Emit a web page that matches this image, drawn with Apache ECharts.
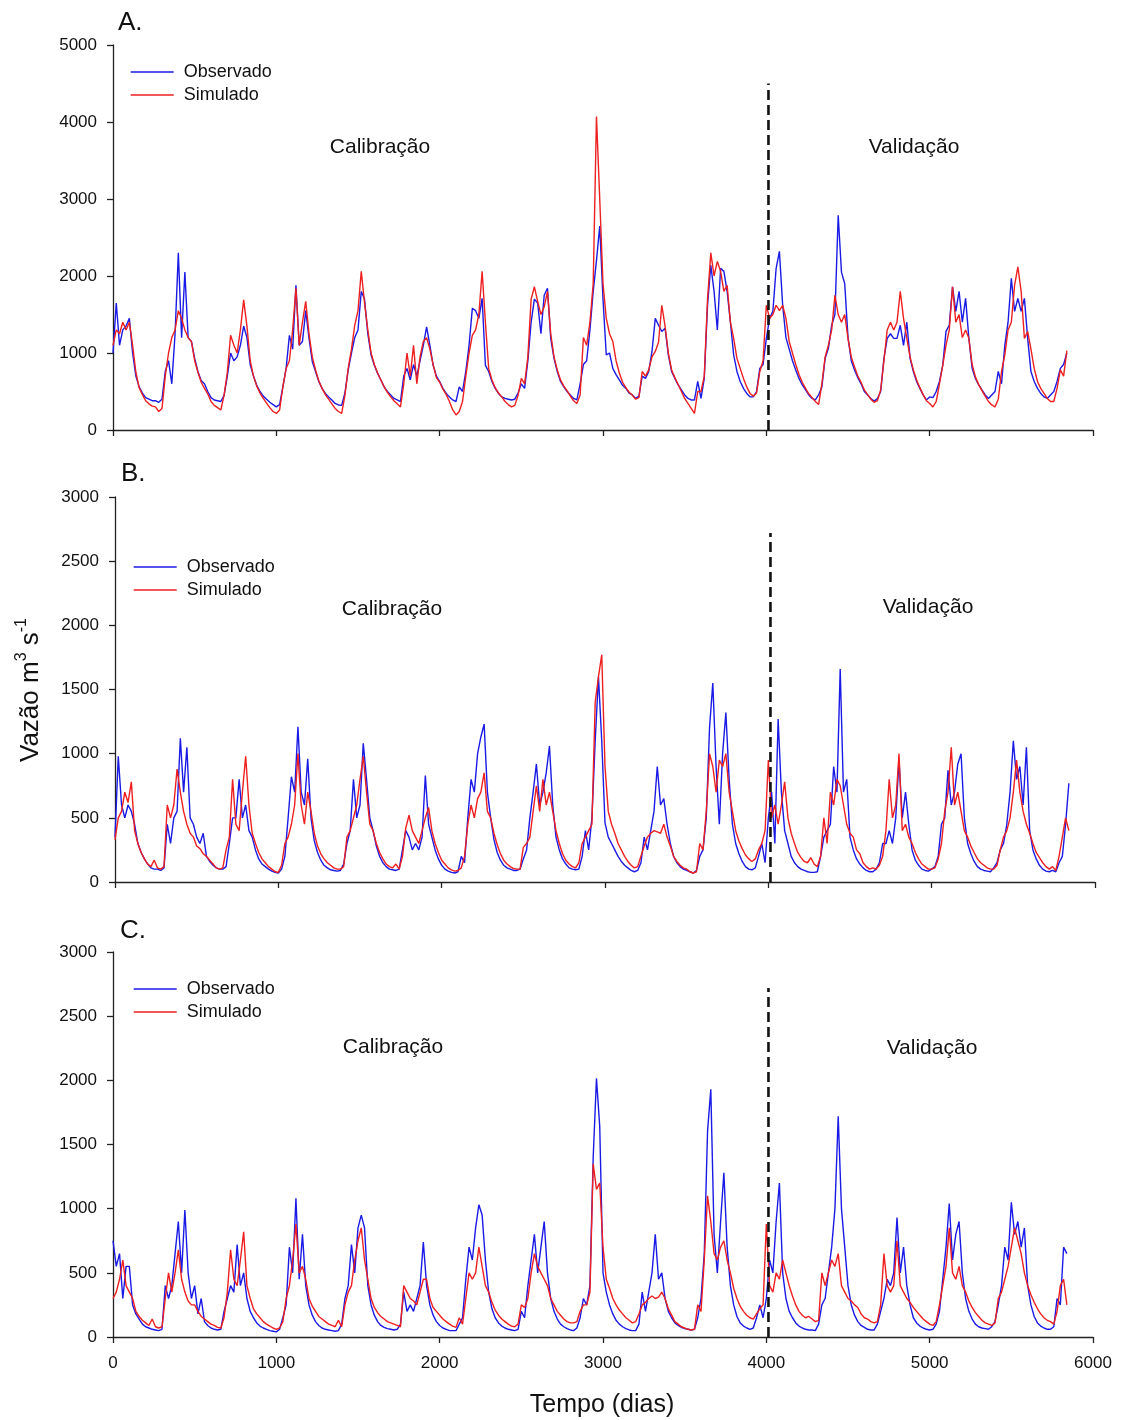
<!DOCTYPE html>
<html><head><meta charset="utf-8">
<script src="https://cdn.jsdelivr.net/npm/echarts@6/dist/echarts.min.js"></script>
<style>html,body{margin:0;padding:0;background:#fff}#c{width:1122px;height:1420px}</style>
</head><body><div id="c"></div>
<script>
// Values read every 20 days (day 0 .. 5840) from the reference picture
const obsA = [
1000,1650,1100,1300,1350,1450,1000,700,560,480,
420,400,380,380,360,400,760,900,600,1250,
2300,1200,2050,1200,1150,930,760,640,600,500,
420,390,380,370,450,700,1000,900,950,1100,
1350,1200,850,700,580,500,440,400,360,330,
300,330,560,800,1230,1050,1880,1100,1150,1550,
1190,890,760,630,540,475,430,390,345,325,
320,480,780,1000,1200,1300,1800,1700,1250,975,
840,735,650,560,500,455,410,390,370,700,
800,650,850,700,900,1100,1340,1100,840,700,
630,540,475,430,390,370,560,500,760,1100,
1580,1550,1450,1710,840,760,630,540,475,430,
410,400,390,400,480,600,540,900,1400,1700,
1650,1250,1750,1840,1190,930,760,630,560,500,
455,410,390,600,850,900,1300,1800,2200,2650,
1700,975,1000,800,720,650,580,540,480,455,
410,440,700,670,760,1020,1450,1360,1280,1320,
975,760,670,585,520,455,410,390,390,630,
410,670,1620,2140,1800,1300,2100,2060,1800,1400,
975,760,630,540,475,430,430,500,800,850,
1190,1450,1540,2100,2320,1620,1200,1050,900,780,
670,585,520,455,410,390,455,560,930,1060,
1360,1500,2790,2050,1900,1200,900,780,680,600,
500,455,410,375,410,500,930,1190,1250,1190,
1190,1360,1100,1400,930,760,630,540,455,390,
430,420,500,630,840,1280,1360,1860,1540,1800,
1400,1710,1190,800,670,585,520,455,410,455,
500,760,600,1100,1400,1970,1540,1710,1540,1710,
1190,760,630,540,475,430,410,455,500,630,
800,850,1000];
const simA = [
1100,1300,1250,1400,1300,1400,1100,750,550,460,
380,340,310,300,240,280,700,1000,1200,1300,
1550,1450,1300,1200,1150,900,750,620,540,470,
370,320,290,260,450,750,1230,1100,1000,1300,
1690,1350,900,700,570,480,410,350,290,240,
215,260,560,800,900,1300,1840,1100,1400,1670,
1250,950,780,640,540,460,400,340,280,240,
215,450,800,1050,1360,1550,2060,1650,1300,1000,
850,740,650,560,490,430,380,340,300,600,
1000,700,1100,600,950,1150,1200,1050,850,680,
620,530,460,370,260,195,240,370,700,1000,
1230,1300,1500,2060,1400,800,650,550,480,430,
370,330,300,320,450,670,600,950,1700,1860,
1670,1500,1600,1800,1250,950,780,650,570,510,
440,380,345,455,1200,1100,1400,1900,4070,3000,
1900,1450,1250,1150,900,740,620,550,490,450,
400,420,760,700,780,950,1020,1140,1620,1350,
1000,780,680,590,500,410,345,280,215,500,
500,700,1700,2300,2000,2190,2060,1800,1880,1400,
1190,930,800,670,560,475,440,480,760,900,
1620,1450,1500,1620,1550,1620,1450,1150,1000,850,
720,620,540,470,420,370,330,600,950,1100,
1300,1750,1500,1400,1500,1190,950,820,700,620,
520,460,400,360,380,520,900,1300,1400,1300,
1400,1800,1450,1190,950,780,650,550,460,380,
345,300,370,600,840,1100,1300,1860,1400,1500,
1200,1300,1190,850,690,590,510,440,370,325,
300,400,760,975,1300,1400,1880,2120,1800,1190,
1280,1050,800,630,540,475,410,370,370,540,
780,700,1030];
const obsB = [
350,980,600,500,600,550,450,300,230,180,
140,110,100,100,90,110,450,300,500,550,
1120,700,1050,500,450,350,300,380,200,160,
130,110,100,100,120,300,500,500,800,500,
600,400,350,250,180,140,120,100,85,75,
70,100,200,500,820,700,1210,700,600,960,
500,320,230,170,130,110,95,90,85,90,
140,300,400,800,500,600,1080,800,500,400,
280,200,150,120,100,95,90,100,250,400,
350,250,300,250,350,830,450,350,250,180,
130,100,85,75,70,80,200,150,500,800,
700,1000,1130,1230,700,500,330,230,170,130,
110,100,90,90,100,180,250,500,700,920,
600,700,850,1060,600,350,250,180,140,110,
100,95,100,200,400,250,500,1100,1600,1100,
460,350,300,250,200,160,130,110,90,80,
90,150,350,250,400,550,900,600,650,450,
300,200,150,120,100,90,80,70,90,200,
250,500,1200,1550,900,450,1000,1320,800,450,
300,220,160,120,100,95,110,200,300,150,
500,700,300,1270,700,400,300,200,150,120,
100,90,80,75,75,80,200,350,400,450,
900,700,1660,700,800,350,250,180,140,110,
90,80,80,100,150,300,300,400,300,500,
950,500,700,450,250,170,130,100,90,85,
100,120,200,450,500,870,600,700,920,1000,
500,300,220,160,120,100,90,85,80,110,
150,250,300,450,700,1100,800,900,600,1050,
400,250,180,130,100,85,80,90,80,150,
200,450,770];
const simB = [
330,500,550,700,620,780,400,300,230,180,
140,120,170,110,100,120,600,500,600,880,
700,550,450,380,350,280,260,220,200,170,
140,110,100,110,250,350,800,450,400,700,
980,600,380,300,230,180,150,120,100,80,
75,130,300,350,450,600,1000,600,450,700,
550,380,280,220,180,150,130,110,100,100,
120,350,400,500,600,800,980,700,450,400,
300,230,180,140,120,110,140,100,200,420,
520,400,350,300,400,500,580,400,300,230,
170,140,110,95,85,90,110,200,450,600,
500,650,700,850,550,500,380,290,220,170,
140,120,105,100,100,270,300,350,550,750,
550,800,600,700,550,400,300,220,170,140,
120,110,150,300,350,400,450,1400,1600,1770,
900,550,450,380,300,250,200,160,130,110,
120,200,280,350,380,400,390,380,450,350,
280,200,160,130,110,100,80,70,80,300,
250,550,1000,900,700,950,900,1000,700,550,
400,320,260,210,180,160,180,250,300,400,
950,500,600,450,600,780,500,380,300,230,
190,160,150,190,140,120,200,500,300,700,
600,800,750,600,450,380,350,250,220,150,
120,100,110,100,130,200,400,800,500,600,
1000,400,450,350,300,230,180,140,120,100,
100,110,180,300,550,700,1050,600,700,550,
400,350,280,230,180,150,130,110,100,100,
130,250,350,400,500,700,950,700,550,450,
380,300,230,190,150,120,100,120,90,200,
350,500,400];
const obsC = [
750,550,650,300,550,550,250,180,140,100,
80,70,60,55,50,60,400,300,400,650,
900,500,990,500,300,400,180,300,120,90,
70,60,55,60,200,300,400,350,720,400,
500,300,200,150,110,85,70,60,50,45,
40,60,150,250,700,500,1080,450,800,400,
250,170,120,90,70,60,55,50,45,50,
100,300,400,720,500,850,950,850,400,250,
170,120,90,75,65,60,55,60,100,350,
200,250,200,300,400,740,400,250,170,120,
90,70,60,50,50,50,100,150,450,700,
600,850,1030,950,600,350,220,150,110,85,
70,60,55,50,60,200,150,400,600,800,
500,700,900,500,300,200,140,100,80,65,
55,50,70,150,300,250,400,1400,2015,1640,
500,350,250,180,130,100,80,65,55,50,
50,100,350,200,350,500,800,450,500,300,
200,150,110,90,75,65,60,55,60,150,
300,650,1600,1930,800,500,900,1280,700,400,
250,160,110,85,70,60,70,150,250,150,
300,600,500,900,1200,500,300,200,150,110,
85,70,60,55,55,50,100,250,300,500,
700,1000,1720,1000,700,400,250,170,120,90,
75,60,55,55,100,200,300,450,400,500,
930,500,700,400,250,150,110,85,70,60,
55,60,100,200,450,700,1040,600,800,900,
500,300,200,140,100,80,70,65,60,80,
120,250,400,700,600,1050,800,900,700,850,
400,250,160,110,85,70,60,60,80,300,
250,700,650];
const simC = [
300,350,450,600,400,350,300,200,160,130,
110,90,140,80,70,80,300,500,350,500,
680,450,350,280,250,250,200,160,140,120,
100,90,75,70,150,350,680,450,400,600,
820,400,300,220,180,150,120,100,85,70,
60,70,120,300,400,600,880,500,550,450,
300,240,200,160,140,120,100,90,80,130,
80,250,350,400,600,750,850,600,450,300,
230,190,160,140,120,110,100,90,80,400,
350,300,280,250,350,450,450,300,230,200,
170,140,120,100,85,75,150,100,300,500,
450,500,700,550,400,350,270,210,170,140,
120,100,85,80,100,250,230,300,500,650,
550,500,450,400,300,250,200,170,140,120,
110,110,120,200,250,250,350,1350,1150,1200,
700,450,380,300,250,210,180,150,130,110,
120,180,250,270,300,320,300,310,350,300,
220,170,120,100,80,70,60,55,60,250,
200,600,1100,900,650,600,700,750,600,500,
380,300,240,200,170,150,140,180,220,250,
880,400,350,500,450,600,500,400,320,250,
200,170,150,160,140,120,130,500,400,500,
600,550,650,400,350,300,280,250,230,180,
150,140,120,110,120,250,650,400,350,400,
750,400,350,300,270,230,200,170,140,120,
100,90,120,250,400,550,850,500,450,550,
400,350,280,230,190,160,130,110,100,90,
110,300,350,450,550,700,850,750,650,500,
400,330,270,220,180,150,130,120,100,200,
400,450,250];
const seriesNames = ['Observado', 'Simulado'];
const panelLabels = ['A.', 'B.', 'C.'];
const periodLabels = ['Calibração', 'Validação'];
const yMax = [5000, 3000, 3000];
const yStep = [1000, 500, 500];
const splitDay = 4013;            // calibration / validation boundary (day)
const splitTop = [4500, 2720, 2720];

// ----- build chart -----
const days = obsA.map((_, i) => i * 20);
const F = "'Liberation Sans', Arial, Helvetica, sans-serif";
const BLUE = '#1a1ae6', RED = '#ee1f1f', AX = '#222';
const grids = [
  {left: 113, top: 45, width: 980, height: 385},
  {left: 115, top: 497, width: 980, height: 385},
  {left: 113, top: 952, width: 980, height: 385}
];
const obs = [obsA, obsB, obsC], sim = [simA, simB, simC];
const xAxis = [], yAxis = [], series = [], legend = [];
const legendPos = [{left: 130, top: 63}, {left: 133, top: 558}, {left: 133, top: 980}];
const plain = v => String(v);
for (let k = 0; k < 3; k++) {
  xAxis.push({type: 'value', gridIndex: k, min: 0, max: 6000, interval: 1000,
    axisLine: {show: true, onZero: false, lineStyle: {color: AX, width: 1.3}},
    axisTick: {show: true, inside: false, length: 6, lineStyle: {color: AX, width: 1.3}},
    axisLabel: {show: k === 2, fontSize: 17, fontFamily: F, color: '#111', margin: 18, formatter: plain},
    splitLine: {show: false}});
  yAxis.push({type: 'value', gridIndex: k, min: 0, max: yMax[k], interval: yStep[k],
    axisLine: {show: true, lineStyle: {color: AX, width: 1.3}},
    axisTick: {show: true, inside: false, length: 6, lineStyle: {color: AX, width: 1.3}},
    axisLabel: {fontSize: 17, fontFamily: F, color: '#111', margin: 16, formatter: plain},
    splitLine: {show: false}});
  series.push({type: 'line', name: seriesNames[0], xAxisIndex: k, yAxisIndex: k,
    data: days.map((d, i) => [d, obs[k][i]]), symbol: 'none', color: BLUE,
    lineStyle: {color: BLUE, width: 1.4}, z: 2, animation: false});
  series.push({type: 'line', name: seriesNames[1], xAxisIndex: k, yAxisIndex: k,
    data: days.map((d, i) => [d, sim[k][i]]), symbol: 'none', color: RED,
    lineStyle: {color: RED, width: 1.4}, z: 3, animation: false});
  series.push({type: 'line', name: 'divisa', xAxisIndex: k, yAxisIndex: k,
    data: [[splitDay, 0], [splitDay, splitTop[k]]], symbol: 'none', silent: true,
    lineStyle: {color: '#111', width: 2.6, type: [10, 5]}, z: 4, animation: false});
  legend.push({left: legendPos[k].left, top: legendPos[k].top, orient: 'vertical',
    data: seriesNames, itemWidth: 43, itemHeight: 18, itemGap: 5, padding: 0,
    itemStyle: {opacity: 0, color: 'rgba(0,0,0,0)', borderWidth: 0},
    lineStyle: {width: 1.4},
    selectedMode: false, textStyle: {fontSize: 18, fontFamily: F, color: '#111', padding: [0, 0, 0, 5]}});
}
const txt = (x, y, text, size, align) => ({type: 'text', x: x, y: y,
  style: {text: text, font: size + 'px ' + F, fill: '#111', align: align || 'center', verticalAlign: 'middle'}});
const graphic = [
  txt(118, 23, panelLabels[0], 26, 'left'),
  txt(121, 474, panelLabels[1], 26, 'left'),
  txt(120, 931, panelLabels[2], 26, 'left'),
  txt(380, 147, periodLabels[0], 21), txt(914, 147, periodLabels[1], 21),
  txt(392, 609, periodLabels[0], 21), txt(928, 607, periodLabels[1], 21),
  txt(393, 1047, periodLabels[0], 21), txt(932, 1048, periodLabels[1], 21),
  txt(602, 1405, 'Tempo (dias)', 25),
  {type: 'text', x: 31, y: 690, rotation: Math.PI / 2,
   style: {text: '{a|Vazão m}{b|3}{a| s}{b|-1}', align: 'center', verticalAlign: 'middle',
     rich: {a: {fontSize: 26, fontFamily: F, fill: '#111', lineHeight: 34},
            b: {fontSize: 16, fontFamily: F, fill: '#111', verticalAlign: 'top', lineHeight: 16}}}}
];
const chart = echarts.init(document.getElementById('c'), null, {renderer: 'canvas', devicePixelRatio: 1});
chart.setOption({animation: false, backgroundColor: '#fff', grid: grids, xAxis, yAxis, series, legend, graphic});
</script></body></html>
